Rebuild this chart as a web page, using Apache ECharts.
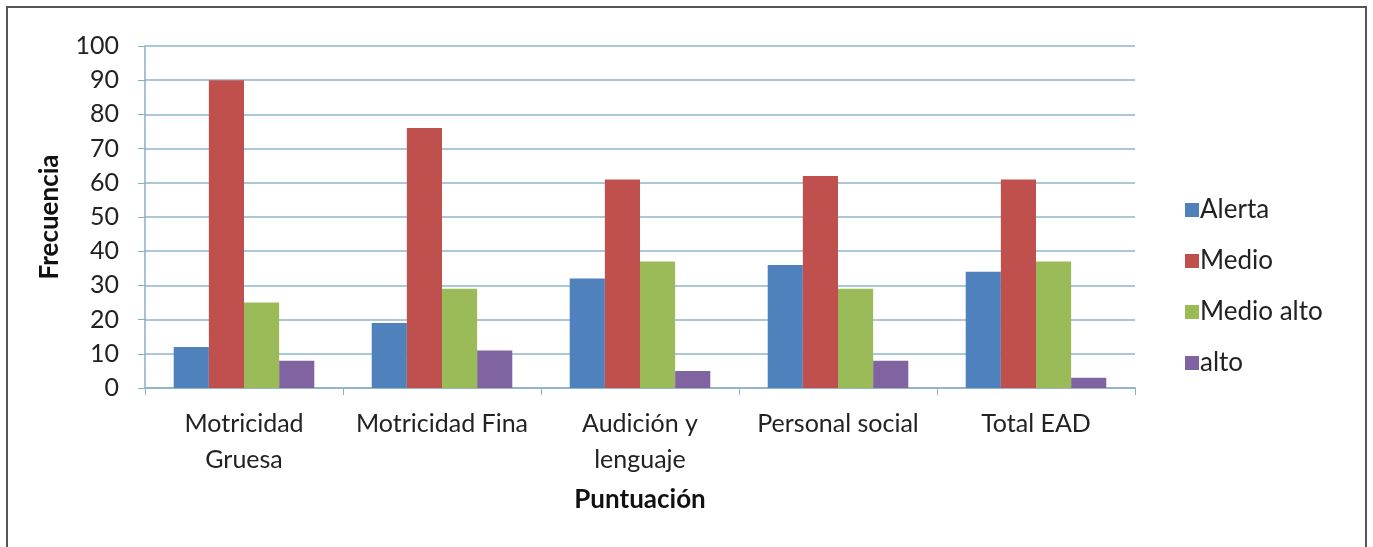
<!DOCTYPE html>
<html>
<head>
<meta charset="utf-8">
<script src="https://cdn.jsdelivr.net/npm/echarts@6/dist/echarts.min.js"></script>
<style>
  html, body { margin: 0; padding: 0; background: #fff; }
  #chart { width: 1373px; height: 547px; }
</style>
</head>
<body>
<div id="chart"></div>
<script>
const categories = ['Motricidad\nGruesa', 'Motricidad Fina', 'Audición y\nlenguaje', 'Personal social', 'Total EAD']
const alerta = [12, 19, 32, 36, 34]
const medio = [90, 76, 61, 62, 61]
const medioAlto = [25, 29, 37, 29, 37]
const alto = [8, 11, 5, 8, 3]

const chart = echarts.init(document.getElementById('chart'))
const font = 'Lato, "Open Sans", sans-serif'

const mkSeries = (name, data, color) => ({
  name,
  type: 'bar',
  data,
  barGap: '0%',
  barCategoryGap: '29%',
  itemStyle: { color },
  emphasis: { disabled: true }
})

const option = {
  animation: false,
  textStyle: { fontFamily: font },
  graphic: [
    {
      type: 'rect',
      shape: { x: 7, y: 7, width: 1359, height: 600 },
      style: { fill: 'none', stroke: '#555', lineWidth: 2 },
      silent: true
    }
  ],
  grid: { left: 145, right: 238, top: 46, bottom: 159 },
  legend: {
    orient: 'vertical',
    left: 1180,
    top: 192,
    itemWidth: 14,
    itemHeight: 14,
    itemGap: 25,
    icon: 'rect',
    textStyle: { fontSize: 26, color: '#222', fontFamily: font, padding: [0, 0, 0, -4] }
  },
  xAxis: {
    type: 'category',
    data: categories,
    name: 'Puntuación',
    nameLocation: 'middle',
    nameGap: 99,
    nameTextStyle: { fontSize: 26, fontWeight: 'bold', color: '#111' },
    axisLine: { lineStyle: { color: '#8aaec4', width: 1.5 } },
    axisTick: { show: true, length: 7, lineStyle: { color: '#8aaec4' } },
    axisLabel: { fontSize: 25, color: '#222', lineHeight: 36, margin: 18, interval: 0 }
  },
  yAxis: {
    type: 'value',
    min: 0,
    max: 100,
    interval: 10,
    name: 'Frecuencia',
    nameLocation: 'middle',
    nameGap: 82,
    nameTextStyle: { fontSize: 26, fontWeight: 'bold', color: '#111' },
    axisLine: { show: true, lineStyle: { color: '#8aaec4', width: 1.5 } },
    axisTick: { show: true, length: 7, lineStyle: { color: '#8aaec4' } },
    axisLabel: { fontSize: 25, color: '#222', margin: 26 },
    splitLine: { lineStyle: { color: '#8fb6cc', width: 1.5 } }
  },
  series: [
    mkSeries('Alerta', alerta, '#4f81bd'),
    mkSeries('Medio', medio, '#c0504d'),
    mkSeries('Medio alto', medioAlto, '#9bbb59'),
    mkSeries('alto', alto, '#8064a2')
  ]
}

chart.setOption(option)
</script>
</body>
</html>
